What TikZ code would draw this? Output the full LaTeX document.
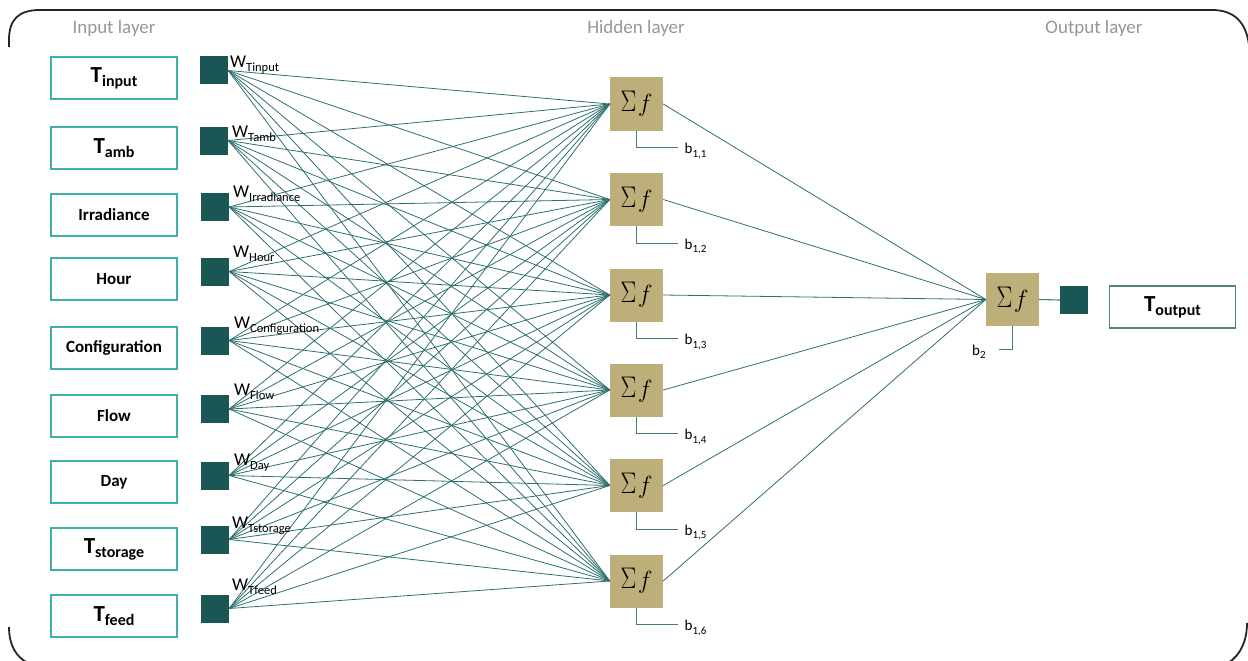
\documentclass[tikz,border=0pt]{standalone}
\usepackage{fontspec}
\setmainfont{Carlito}
\definecolor{boxteal}{RGB}{62,176,170}
\definecolor{dsq}{RGB}{26,86,84}
\definecolor{lteal}{RGB}{45,112,110}
\definecolor{bteal}{RGB}{64,128,124}
\definecolor{khaki}{RGB}{189,175,121}
\definecolor{lgray}{RGB}{150,150,150}
\definecolor{obox}{RGB}{78,132,126}
\newcommand\Tsub[1]{{\fontsize{23}{24}\selectfont T}\raisebox{-4pt}{\fontsize{16}{18}\selectfont #1}}
\newcommand\Wsub[1]{W\raisebox{-4pt}{\fontsize{12.5}{13}\selectfont #1}}
\newcommand\Bsub[1]{b\raisebox{-3.5pt}{\fontsize{11}{12}\selectfont #1}}
\newcommand\SF{$\scalebox{0.95}[1.2]{$\Sigma$}\mkern1mu f$}
\tikzset{
  inbox/.style={draw=boxteal, line width=2pt, minimum width=126pt, minimum height=42pt, inner sep=0pt, font=\fontsize{17}{20}\selectfont\bfseries},
  outbox/.style={draw=obox, line width=1.6pt, minimum width=126pt, minimum height=42pt, inner sep=0pt, font=\fontsize{17}{20}\selectfont\bfseries},
  wsq/.style={fill=dsq, minimum size=28pt, inner sep=0pt},
  hid/.style={fill=khaki, minimum size=53pt, inner sep=0pt, font=\fontsize{28}{30}\selectfont},
  conn/.style={draw=lteal, line width=0.8pt},
  bias/.style={draw=bteal, line width=1.1pt},
  layer/.style={text=lgray, anchor=base, inner sep=0pt, font=\fontsize{19}{22}\selectfont},
  wlab/.style={anchor=base west, inner sep=0pt, font=\fontsize{18}{18}\selectfont},
  blab/.style={anchor=base west, inner sep=0pt, font=\fontsize{15}{16}\selectfont},
  frame/.style={draw=black!85, line width=1.8pt},
}
\begin{document}
\begin{tikzpicture}[x=1pt,y=-1pt]
\useasboundingbox (0,0) rectangle (1248,661);
% frame pieces
\draw[frame] (9,47) -- (9,40) .. controls (9,20) and (18,10) .. (40,10) -- (1212,10) .. controls (1234,10) and (1246,22) .. (1249,45);
\draw[frame] (9,627) .. controls (9,645) and (16,657) .. (28,663);
\draw[frame] (1247,623) .. controls (1247,640) and (1241,655) .. (1228,663);
% layer labels
\node[layer] (L1) at (114,34) {Input layer};
\node[layer] (L2) at (636,34) {Hidden layer};
\node[layer] (L3) at (1094,34) {Output layer};
% input boxes
\node[inbox] (i1) at (114,78) {\Tsub{input}};
\node[inbox] (i2) at (114,148) {\Tsub{amb}};
\node[inbox] (i3) at (114,215) {Irradiance};
\node[inbox] (i4) at (114,279) {Hour};
\node[inbox] (i5) at (114,348) {Configuration};
\node[inbox] (i6) at (114,416) {Flow};
\node[inbox] (i7) at (114,482) {Day};
\node[inbox] (i8) at (114,549) {\Tsub{storage}};
\node[inbox] (i9) at (114,616) {\Tsub{feed}};
% weight squares
\node[wsq] (s1) at (214,70.5) {};
\node[wsq] (s2) at (214,140.5) {};
\node[wsq] (s3) at (215,207) {};
\node[wsq] (s4) at (215,271.5) {};
\node[wsq] (s5) at (215,340.5) {};
\node[wsq] (s6) at (215,409) {};
\node[wsq] (s7) at (215,475.5) {};
\node[wsq] (s8) at (215,539.5) {};
\node[wsq] (s9) at (215,608.5) {};
% hidden nodes
\node[hid] (h1) at (636.5,104) {\SF};
\node[hid] (h2) at (636.5,199.5) {\SF};
\node[hid] (h3) at (636.5,295) {\SF};
\node[hid] (h4) at (636.5,390) {\SF};
\node[hid] (h5) at (636.5,485.5) {\SF};
\node[hid] (h6) at (636.5,581) {\SF};
% output
\node[hid] (o) at (1012.5,299.5) {\SF};
\node[wsq] (os) at (1074,300) {};
\node[outbox] (ob) at (1172.5,307) {\Tsub{output}};
% connections
\foreach \i in {1,...,9}{
  \foreach \j in {1,...,6}{
    \draw[conn] (s\i.east) -- (h\j.west);
  }
}
\foreach \j in {1,...,6}{
  \draw[conn] (h\j.east) -- (o.west);
}
\draw[bias] (o.east) -- (os.west);
% weight labels
\node[wlab] (w1) at (230,68) {\Wsub{Tinput}};
\node[wlab] (w2) at (232,137) {\Wsub{Tamb}};
\node[wlab] (w3) at (233,197) {\Wsub{Irradiance}};
\node[wlab] (w4) at (233,257) {\Wsub{Hour}};
\node[wlab] (w5) at (234,328) {\Wsub{Configuration}};
\node[wlab] (w6) at (234,395) {\Wsub{Flow}};
\node[wlab] (w7) at (234,465) {\Wsub{Day}};
\node[wlab] (w8) at (232,528) {\Wsub{Tstorage}};
\node[wlab] (w9) at (232,590) {\Wsub{Tfeed}};
% biases
\foreach \j/\lab in {1/{1,1},2/{1,2},3/{1,3},4/{1,4},5/{1,5},6/{1,6}}{
  \coordinate (bc\j) at ([yshift=-17pt]h\j.south);
  \coordinate (be\j) at ([xshift=41pt]bc\j);
  \draw[bias] (h\j.south) -- (bc\j) -- (be\j);
  \node[blab] (bl\j) at ([xshift=7pt,yshift=-6pt]be\j) {\Bsub{\lab}};
}
\coordinate (oc) at ([yshift=-23pt]o.south);
\coordinate (oe) at ([xshift=-14pt]oc);
\draw[bias] (o.south) -- (oc) -- (oe);
\node[blab] (b2) at (972,355) {\Bsub{2}};
\end{tikzpicture}
\end{document}
